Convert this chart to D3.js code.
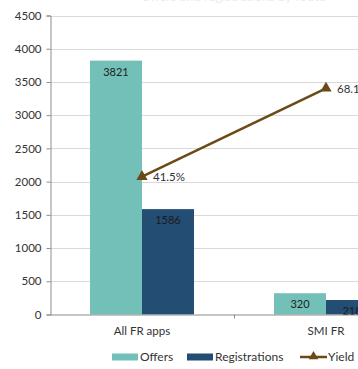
<!DOCTYPE html>
<html>
<head>
<meta charset="utf-8">
<script src="https://cdn.jsdelivr.net/npm/d3@7"></script>
<style>
  html, body { margin: 0; padding: 0; background: #fff; }
  svg { display: block; font-family: Lato, "Open Sans", sans-serif; }
</style>
</head>
<body>
<svg id="chart" width="358" height="369"></svg>
<script>
// Offers, registrations and offer-to-registration yield per application group
const categories = ["All FR apps", "SMI FR"];
const offers = [3821, 320];
const registrations = [1586, 218];
const yieldPct = [41.5, 68.1];
const yTicks = [0, 500, 1000, 1500, 2000, 2500, 3000, 3500, 4000, 4500];
const legendLabels = ["Offers", "Registrations", "Yield"];

const colors = { offers: "#72c0b7", registrations: "#234d73", yield: "#6b4a17" };

const svg = d3.select("#chart");

const x = d3.scaleBand().domain(categories).range([50, 418]).paddingInner(0).paddingOuter(0);
const y = d3.scaleLinear().domain([0, 4500]).range([314.5, 15.5]);
// secondary (hidden) axis for yield, 0–90%
const y2 = d3.scaleLinear().domain([0, 90]).range([314.5, 15.5]);
const barW = 52;
const barPad = (x.bandwidth() - 2 * barW) / 2;

// faint title, mostly above the top edge
svg.append("text").attr("x", 233).attr("y", 1).attr("text-anchor", "middle")
  .attr("font-size", 13).attr("fill", "#ebebeb").text("Offers and registrations by route");

// gridlines
svg.append("g").selectAll("line").data(yTicks.filter(d => d > 0)).join("line")
  .attr("x1", 50).attr("x2", 358)
  .attr("y1", d => Math.round(y(d)) + 0.5).attr("y2", d => Math.round(y(d)) + 0.5)
  .attr("stroke", "#d9d9d9").attr("stroke-width", 1);

// bars
const groups = svg.append("g").selectAll("g").data(categories).join("g");
groups.append("rect")
  .attr("x", (d) => x(d) + barPad).attr("width", barW)
  .attr("y", (d, i) => y(offers[i])).attr("height", (d, i) => y(0) - y(offers[i]))
  .attr("fill", colors.offers);
groups.append("rect")
  .attr("x", (d) => x(d) + barPad + barW).attr("width", barW)
  .attr("y", (d, i) => y(registrations[i])).attr("height", (d, i) => y(0) - y(registrations[i]))
  .attr("fill", colors.registrations);

// bar value labels
groups.append("text")
  .attr("x", d => x(d) + barPad + barW / 2).attr("y", (d, i) => y(offers[i]) + 15)
  .attr("text-anchor", "middle").attr("font-size", 11).attr("fill", "#222")
  .text((d, i) => offers[i]);
groups.append("text")
  .attr("x", d => x(d) + barPad + barW * 1.5).attr("y", (d, i) => y(registrations[i]) + 15)
  .attr("text-anchor", "middle").attr("font-size", 11).attr("fill", "#1a1a1a")
  .text((d, i) => registrations[i]);

// left axis
const yAxis = d3.axisLeft(y).tickValues(yTicks).tickFormat(d3.format("d")).tickSize(4).tickPadding(5);
const gy = svg.append("g").attr("transform", "translate(50.5,0)").call(yAxis);
gy.select(".domain").attr("stroke", "#8c8c8c");
gy.selectAll(".tick line").attr("stroke", "#8c8c8c");
gy.selectAll(".tick text").attr("font-size", 11.5).attr("fill", "#333").attr("font-family", "Lato, sans-serif");

// bottom axis
const xAxis = d3.axisBottom(x).tickSize(0).tickPadding(12);
const gx = svg.append("g").attr("transform", `translate(0,${y(0)})`).call(xAxis);
gx.select(".domain").attr("stroke", "#8c8c8c");
gx.selectAll(".tick text").attr("font-size", 11.5).attr("fill", "#333").attr("font-family", "Lato, sans-serif");
// category boundary ticks
svg.append("g").selectAll("line").data(categories).join("line")
  .attr("x1", d => Math.round(x(d) + x.bandwidth()) + 0.5)
  .attr("x2", d => Math.round(x(d) + x.bandwidth()) + 0.5)
  .attr("y1", y(0)).attr("y2", y(0) + 4).attr("stroke", "#8c8c8c");

// yield line
const cx = d => x(d) + x.bandwidth() / 2;
const line = d3.line().x((d, i) => cx(categories[i])).y(d => y2(d));
svg.append("path").datum(yieldPct).attr("d", line)
  .attr("fill", "none").attr("stroke", colors.yield).attr("stroke-width", 2.5);
const tri = d3.symbol().type(d3.symbolTriangle).size(55);
svg.append("g").selectAll("path").data(yieldPct).join("path")
  .attr("d", tri)
  .attr("transform", (d, i) => `translate(${cx(categories[i])},${y2(d)})`)
  .attr("fill", colors.yield);
svg.append("g").selectAll("text").data(yieldPct).join("text")
  .attr("x", (d, i) => cx(categories[i]) + 11).attr("y", d => y2(d) + 4.5)
  .attr("font-size", 11.5).attr("fill", "#333")
  .text(d => d.toFixed(1) + "%");

// legend
const ly = 357;
const leg = svg.append("g");
leg.append("rect").attr("x", 112).attr("y", ly - 3.5).attr("width", 26).attr("height", 7).attr("fill", colors.offers);
leg.append("text").attr("x", 140).attr("y", ly + 4).attr("font-size", 12).attr("fill", "#333").text(legendLabels[0]);
leg.append("rect").attr("x", 187).attr("y", ly - 3.5).attr("width", 26).attr("height", 7).attr("fill", colors.registrations);
leg.append("text").attr("x", 215).attr("y", ly + 4).attr("font-size", 12).attr("fill", "#333").text(legendLabels[1]);
leg.append("line").attr("x1", 300).attr("x2", 327).attr("y1", ly).attr("y2", ly)
  .attr("stroke", colors.yield).attr("stroke-width", 2.5);
leg.append("path").attr("d", d3.symbol().type(d3.symbolTriangle).size(40))
  .attr("transform", `translate(313.5,${ly - 0.5})`).attr("fill", colors.yield);
leg.append("text").attr("x", 328).attr("y", ly + 4).attr("font-size", 12).attr("fill", "#333").text(legendLabels[2]);
</script>
</body>
</html>
